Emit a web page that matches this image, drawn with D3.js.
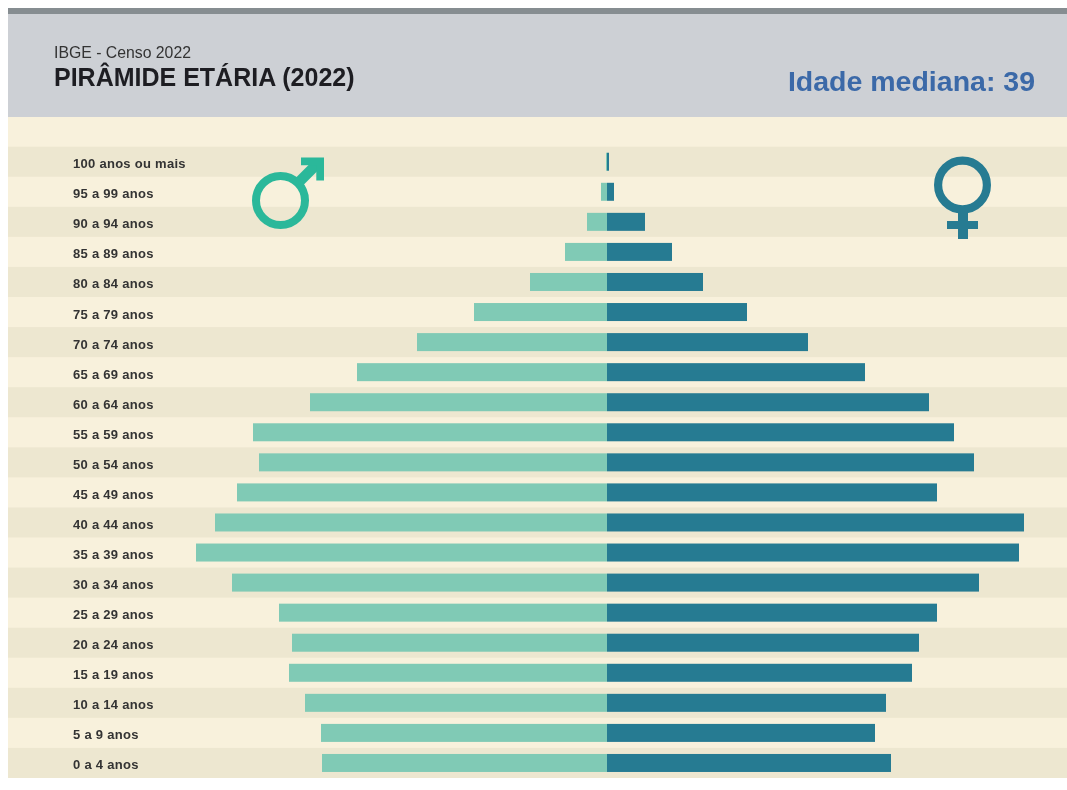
<!DOCTYPE html>
<html>
<head>
<meta charset="utf-8">
<script src="https://cdn.jsdelivr.net/npm/d3@7"></script>
<style>
  html, body { margin: 0; padding: 0; background: #fff; }
  svg { display: block; font-family: "Liberation Sans", Arial, sans-serif; filter: blur(0.4px); }
  .domain { display: none; }
</style>
</head>
<body>
<svg id="chart" width="1067" height="790"></svg>
<script>
// age groups, top to bottom
const ageGroups = ["100 anos ou mais", "95 a 99 anos", "90 a 94 anos", "85 a 89 anos", "80 a 84 anos",
  "75 a 79 anos", "70 a 74 anos", "65 a 69 anos", "60 a 64 anos", "55 a 59 anos", "50 a 54 anos",
  "45 a 49 anos", "40 a 44 anos", "35 a 39 anos", "30 a 34 anos", "25 a 29 anos", "20 a 24 anos",
  "15 a 19 anos", "10 a 14 anos", "5 a 9 anos", "0 a 4 anos"];

// no axis on the original, so these are bar lengths (relative units)
const maleValues = [1, 6, 20, 42, 77, 133, 190, 250, 297, 354, 348, 370, 392, 411, 375, 328, 315, 318, 302, 286, 285];
const femaleValues = [2, 7, 38, 65, 96, 140, 201, 258, 322, 347, 367, 330, 417, 412, 372, 330, 312, 305, 279, 268, 284];

const sourceLabel = "IBGE - Censo 2022";
const titleLabel = "PIRÂMIDE ETÁRIA (2022)";
const medianLabel = "Idade mediana: 39";

const width = 1067, center = 607, left = 8;
const svg = d3.select("#chart");

// header + background
svg.append("rect").attr("x", left).attr("y", 8).attr("width", width - left).attr("height", 6).attr("fill", "#868d91");
svg.append("rect").attr("x", left).attr("y", 14).attr("width", width - left).attr("height", 103).attr("fill", "#cdd0d5");
svg.append("rect").attr("x", left).attr("y", 117).attr("width", width - left).attr("height", 661).attr("fill", "#f8f1dc");

svg.append("text").attr("x", 54).attr("y", 58).attr("font-size", 15.8).attr("fill", "#333").text(sourceLabel);
svg.append("text").attr("x", 54).attr("y", 85.5).attr("font-size", 25).attr("font-weight", "bold")
  .attr("fill", "#1d1d22").text(titleLabel);
svg.append("text").attr("x", 1035).attr("y", 90.5).attr("text-anchor", "end").attr("font-size", 28.5)
  .attr("font-weight", "bold").attr("fill", "#3b69a8").text(medianLabel);

// scales
let yBand = d3.scaleBand().domain(ageGroups).range([146.7, 778]);
let xMale = d3.scaleLinear().domain([0, 400]).range([center, center - 400]);
let xFemale = d3.scaleLinear().domain([0, 400]).range([center, center + 400]);

// alternating stripes
svg.append("g").selectAll("rect")
  .data(ageGroups.filter((d, i) => i % 2 === 0))
  .join("rect")
  .attr("x", left)
  .attr("y", d => yBand(d))
  .attr("width", width - left)
  .attr("height", yBand.bandwidth())
  .attr("fill", "#ede7d0");

// bars
const barH = 18;
svg.append("g").selectAll("rect")
  .data(maleValues)
  .join("rect")
  .attr("x", d => xMale(d))
  .attr("y", (d, i) => yBand(ageGroups[i]) + (yBand.bandwidth() - barH) / 2)
  .attr("width", d => center - xMale(d))
  .attr("height", barH)
  .attr("fill", "#80cab5");

svg.append("g").selectAll("rect")
  .data(femaleValues)
  .join("rect")
  .attr("x", center)
  .attr("y", (d, i) => yBand(ageGroups[i]) + (yBand.bandwidth() - barH) / 2)
  .attr("width", d => xFemale(d) - center)
  .attr("height", barH)
  .attr("fill", "#267b92");

// age labels
let yAxis = svg.append("g").attr("transform", "translate(73,0)")
  .call(d3.axisLeft(yBand).tickSize(0).tickPadding(0));
yAxis.selectAll("text")
  .attr("text-anchor", "start")
  .attr("dy", "0.5em")
  .attr("font-size", 13)
  .attr("letter-spacing", 0.28)
  .attr("font-weight", "bold")
  .attr("font-family", "Liberation Sans")
  .attr("fill", "#333");

// male symbol
let mars = svg.append("g").attr("fill", "#2bb89a");
mars.append("circle").attr("cx", 280.5).attr("cy", 200.5).attr("r", 24.5)
  .attr("fill", "none").attr("stroke", "#2bb89a").attr("stroke-width", 8);
mars.append("line").attr("x1", 298).attr("y1", 183).attr("x2", 317).attr("y2", 164)
  .attr("stroke", "#2bb89a").attr("stroke-width", 10.5);
mars.append("path").attr("d", "M301 157.5H324V180.5H316.3V165.2H301Z");

// female symbol
let venus = svg.append("g").attr("fill", "#267b92");
venus.append("circle").attr("cx", 962.5).attr("cy", 185).attr("r", 24.4)
  .attr("fill", "none").attr("stroke", "#267b92").attr("stroke-width", 8.2);
venus.append("rect").attr("x", 958).attr("y", 212).attr("width", 10).attr("height", 27);
venus.append("rect").attr("x", 947).attr("y", 221).attr("width", 31).attr("height", 8);
</script>
</body>
</html>
